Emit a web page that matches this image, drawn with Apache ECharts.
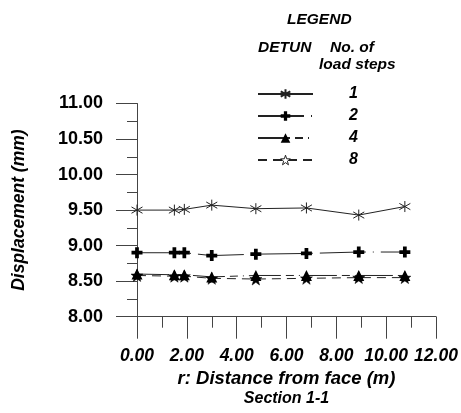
<!DOCTYPE html>
<html>
<head>
<meta charset="utf-8">
<script src="https://cdn.jsdelivr.net/npm/echarts@6/dist/echarts.min.js"></script>
<style>html,body{margin:0;padding:0;background:#fff;}#c{width:461px;height:413px;}</style>
</head>
<body>
<div id="c"></div>
<script>
var xTicks = [0, 2, 4, 6, 8, 10, 12];
var yTicks = [8, 8.5, 9, 9.5, 10, 10.5, 11];
var distances = [0, 1.5, 1.9, 3.0, 4.77, 6.8, 8.9, 10.75];
var steps1 = [9.50, 9.50, 9.51, 9.57, 9.52, 9.53, 9.43, 9.55];
var steps2 = [8.90, 8.90, 8.90, 8.86, 8.88, 8.89, 8.91, 8.91];
var steps4 = [8.60, 8.59, 8.59, 8.56, 8.58, 8.58, 8.58, 8.58];
var steps8 = [8.58, 8.57, 8.57, 8.54, 8.53, 8.54, 8.55, 8.55];
var seriesNames = ['1', '2', '4', '8'];

var FONT = 'Arial, "Liberation Sans", sans-serif';
var INK = '#222';

function pairs(ys) { return distances.map(function (x, i) { return [x, ys[i]]; }); }

var asterisk = 'path://M0,-10L0,10M-8.2,-5.7L8.2,5.7M-8.2,5.7L8.2,-5.7';
var plus = 'path://M-1.7,-5H1.7V-1.7H5V1.7H1.7V5H-1.7V1.7H-5V-1.7H-1.7Z';
var star = 'path://M0,-10L2.35,-3.24L9.51,-3.09L3.8,1.24L5.88,8.09L0,4L-5.88,8.09L-3.8,1.24L-9.51,-3.09L-2.35,-3.24Z';

var chart = echarts.init(document.getElementById('c'), null, { renderer: 'canvas' });
chart.setOption({
  animation: false,
  backgroundColor: '#fff',
  grid: { left: 137, top: 103.5, right: 25, bottom: 96.3, containLabel: false },
  xAxis: {
    type: 'value', min: xTicks[0], max: xTicks[xTicks.length - 1], interval: 2,
    axisLine: { show: true, onZero: false, lineStyle: { color: '#444', width: 1 } },
    axisTick: { show: true, length: 22, lineStyle: { color: '#444' } },
    minorTick: { show: true, splitNumber: 2, length: 11, lineStyle: { color: '#444' } },
    splitLine: { show: false },
    axisLabel: {
      margin: 30, color: '#000', fontFamily: FONT, fontSize: 17.5, fontWeight: 'bold', fontStyle: 'italic',
      hideOverlap: false, showMinLabel: true, showMaxLabel: true,
      formatter: function (v) { return v.toFixed(2); }
    },
    name: '{a|r: Distance from face (m)}\n{b|Section 1-1}',
    nameLocation: 'middle', nameGap: 40,
    nameTextStyle: {
      color: '#000', fontFamily: FONT, fontWeight: 'bold', fontStyle: 'italic', lineHeight: 19,
      rich: {
        a: { fontFamily: FONT, fontSize: 18.5, fontWeight: 'bold', fontStyle: 'italic', lineHeight: 19, color: '#000' },
        b: { fontFamily: FONT, fontSize: 16, fontWeight: 'bold', fontStyle: 'italic', lineHeight: 19, color: '#000' }
      }
    }
  },
  yAxis: {
    type: 'value', min: yTicks[0], max: yTicks[yTicks.length - 1], interval: 0.5,
    axisLine: { show: true, onZero: false, lineStyle: { color: '#444', width: 1 } },
    axisTick: { show: true, length: 21, lineStyle: { color: '#444' } },
    minorTick: { show: true, splitNumber: 2, length: 10, lineStyle: { color: '#444' } },
    splitLine: { show: false },
    axisLabel: {
      margin: 34, color: '#000', fontFamily: FONT, fontSize: 18, fontWeight: 'bold',
      formatter: function (v) { return v.toFixed(2); }
    },
    name: 'Displacement (mm)',
    nameLocation: 'middle', nameGap: 109, nameRotate: 90,
    nameTextStyle: { color: '#000', fontFamily: FONT, fontSize: 17.5, fontWeight: 'bold', fontStyle: 'italic' }
  },
  legend: {
    orient: 'vertical', left: 252, top: 81, itemWidth: 55, itemHeight: 12, itemGap: 6,
    selectedMode: false,
    textStyle: { color: '#000', fontFamily: FONT, fontSize: 16, fontWeight: 'bold', fontStyle: 'italic', lineHeight: 14, padding: [0, 0, 0, 31] },
    data: [
      { name: '1' }, { name: '2' }, { name: '4' },
      { name: '8', itemStyle: { color: '#fff', borderColor: INK, borderWidth: 1 } }
    ]
  },
  graphic: [
    { type: 'text', left: 287, top: 12, style: { text: 'LEGEND', fill: '#000', font: 'italic bold 15.5px ' + FONT } },
    { type: 'text', left: 258, top: 40, style: { text: 'DETUN', fill: '#000', font: 'italic bold 15.5px ' + FONT } },
    { type: 'text', left: 330, top: 40, style: { text: 'No. of', fill: '#000', font: 'italic bold 15.5px ' + FONT } },
    { type: 'text', left: 319, top: 57, style: { text: 'load steps', fill: '#000', font: 'italic bold 15.5px ' + FONT } }
  ],
  series: [
    { name: seriesNames[0], type: 'line', data: pairs(steps1), symbol: asterisk, symbolSize: 11,
      itemStyle: { color: 'none', borderColor: INK, borderWidth: 1 },
      lineStyle: { color: INK, width: 1, type: 'solid' } },
    { name: seriesNames[1], type: 'line', data: pairs(steps2), symbol: plus, symbolSize: 11,
      itemStyle: { color: '#000' },
      lineStyle: { color: INK, width: 1, type: [46, 7, 1, 7] } },
    { name: seriesNames[2], type: 'line', data: pairs(steps4), symbol: 'triangle', symbolSize: 11,
      itemStyle: { color: '#000' },
      lineStyle: { color: INK, width: 1, type: [32, 5, 8, 5, 1, 5] } },
    { name: seriesNames[3], type: 'line', data: pairs(steps8), symbol: star, symbolSize: 12,
      itemStyle: { color: '#000', borderColor: '#000', borderWidth: 0.5 },
      lineStyle: { color: INK, width: 1, type: [9, 6] } }
  ]
});
</script>
</body>
</html>
